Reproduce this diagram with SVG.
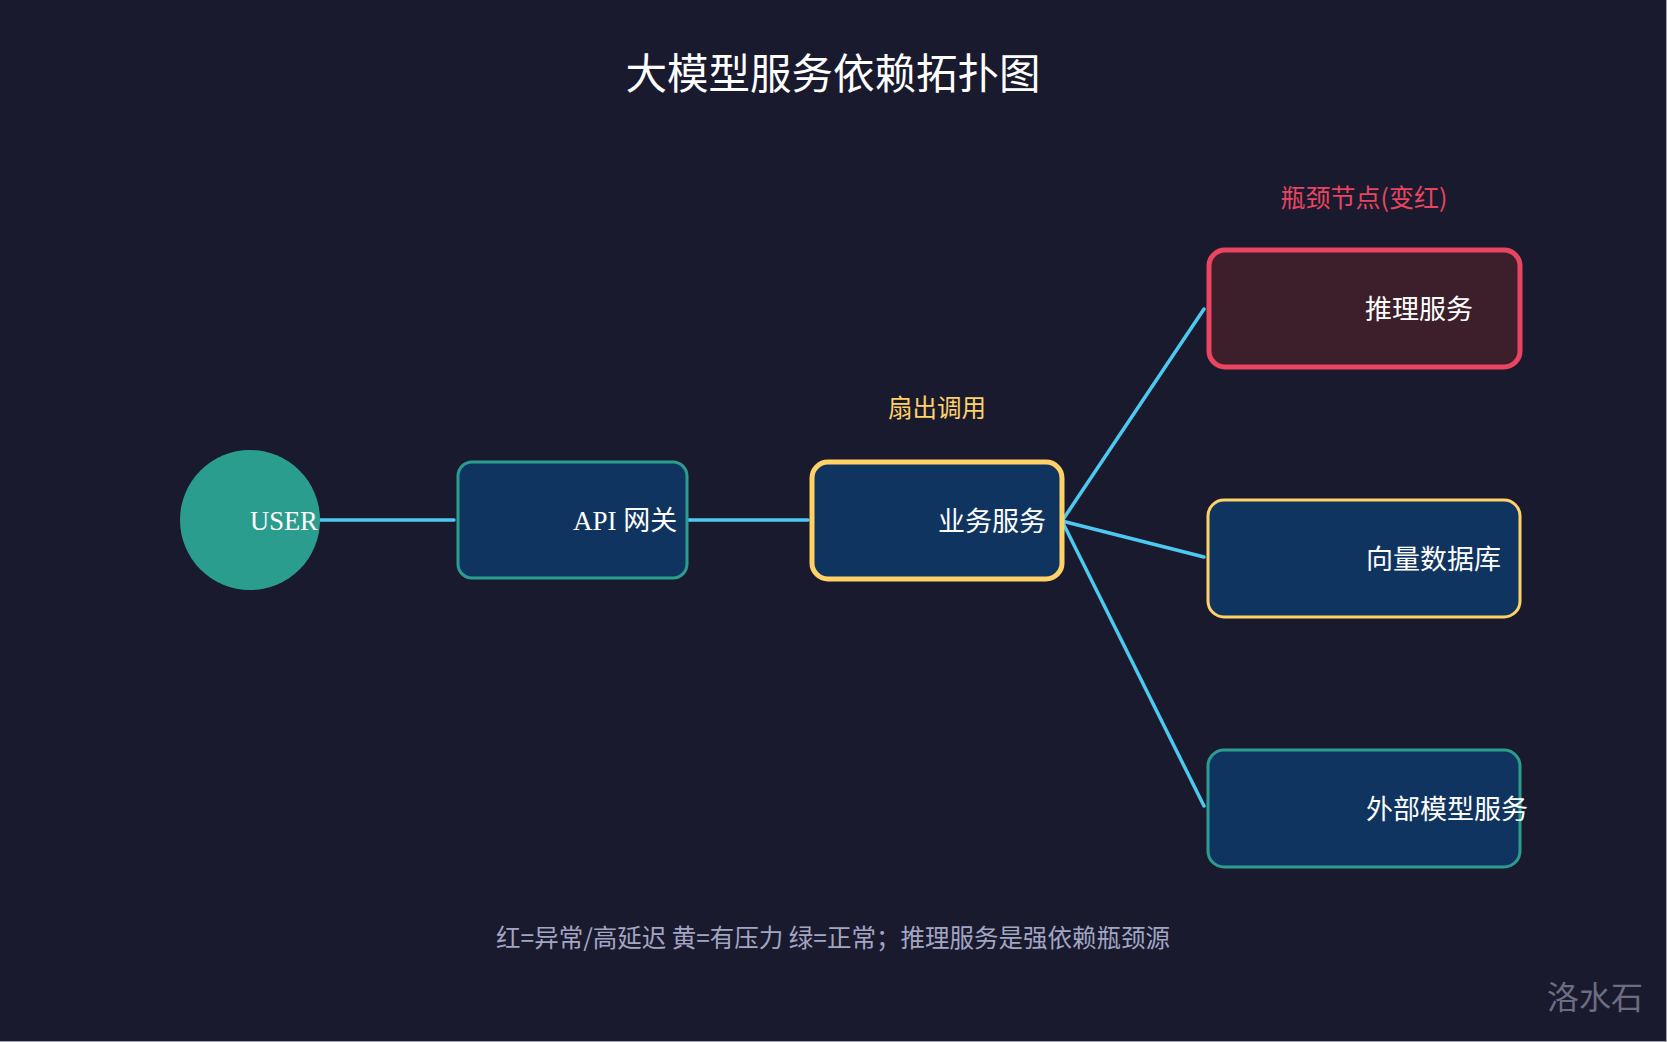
<svg xmlns="http://www.w3.org/2000/svg" width="1667" height="1042" viewBox="0 0 1667 1042">
<style>
.cjk{font-family:"Noto Sans CJK SC","Noto Sans",sans-serif}
.node{fill:#0f3460;stroke-width:3}
.lbl{font-family:"Noto Sans CJK SC","Noto Sans",sans-serif;font-size:27px;fill:#ffffff}
.edge{stroke:#4cc9f0;stroke-width:3.5;fill:none;stroke-linecap:round}
</style>
<rect x="0" y="0" width="1667" height="1042" fill="#a4a4ae"/>
<rect x="0" y="0" width="1666" height="1041" fill="#1a1a2e"/>
<text class="cjk" x="833" y="89" font-size="41.5" fill="#ffffff" text-anchor="middle">大模型服务依赖拓扑图</text>
<g id="connectors">
<line class="edge" x1="320" y1="520" x2="454" y2="520"/>
<line class="edge" x1="688" y1="520" x2="808" y2="520"/>
<line class="edge" x1="1062" y1="521" x2="1204" y2="309"/>
<line class="edge" x1="1062" y1="521" x2="1204" y2="557"/>
<line class="edge" x1="1062" y1="521" x2="1204" y2="806"/>
</g>
<g id="user">
<circle cx="250" cy="520" r="70" fill="#2a9d8f"/>
<text x="250" y="530" font-family="Liberation Serif,serif" font-size="26.5" fill="#ffffff">USER</text>
</g>
<g id="api-gateway">
<rect class="node" x="458" y="462" width="229" height="116" rx="14" stroke="#2a9d8f"/>
<text x="573" y="530" font-size="27" fill="#ffffff" style="font-family:'Liberation Serif','Noto Sans CJK SC',serif">API 网关</text>
</g>
<g id="business">
<rect x="812" y="462" width="250" height="117" rx="16" fill="#0f3460" stroke="#ffd166" stroke-width="5"/>
<text class="lbl" x="938" y="531">业务服务</text>
</g>
<text class="cjk" x="937" y="417" font-size="24.5" fill="#ffd166" text-anchor="middle">扇出调用</text>
<g id="inference">
<rect x="1209" y="250" width="311" height="117" rx="16" fill="#3d1f2b" stroke="#e94560" stroke-width="5"/>
<text class="lbl" x="1365" y="319">推理服务</text>
</g>
<text class="cjk" x="1364" y="207" font-size="25" fill="#e94560" text-anchor="middle">瓶颈节点(变红)</text>
<g id="vector-db">
<rect class="node" x="1208" y="500" width="312" height="117" rx="16" stroke="#ffd166"/>
<text class="lbl" x="1366" y="569">向量数据库</text>
</g>
<g id="external-model">
<rect class="node" x="1208" y="750" width="312" height="117" rx="16" stroke="#2a9d8f"/>
<text class="lbl" x="1366" y="819">外部模型服务</text>
</g>
<text class="cjk" x="833" y="947" font-size="24.5" fill="#a3a5c3" text-anchor="middle">红=异常/高延迟 黄=有压力 绿=正常；推理服务是强依赖瓶颈源</text>
<text class="cjk" x="1643" y="1009" font-size="32" fill="#6b6d82" text-anchor="end">洛水石</text>
</svg>
